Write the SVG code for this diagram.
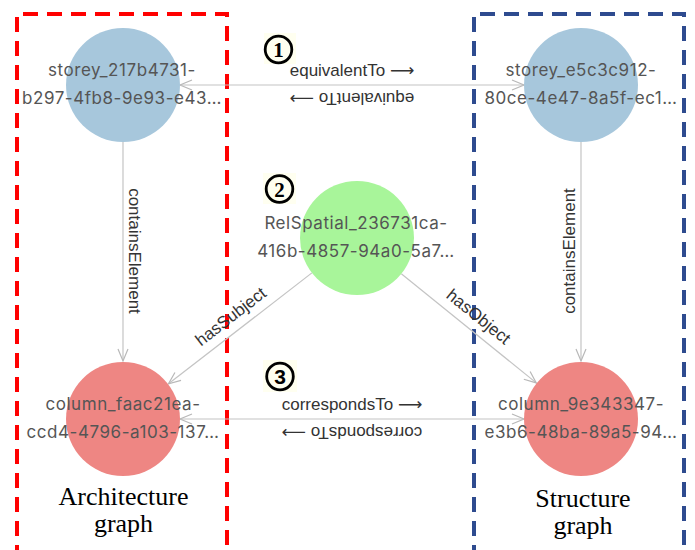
<svg xmlns="http://www.w3.org/2000/svg" width="695" height="550" viewBox="0 0 695 550">
<defs>
<marker id="arr" viewBox="-14 -7 16 14" refX="0" refY="0" markerWidth="16" markerHeight="14" markerUnits="userSpaceOnUse" orient="auto-start-reverse">
<path d="M-12,-5 L0,0 L-12,5" fill="none" stroke="#b8b8b8" stroke-width="1.2"/>
</marker>
<style>
.edge{stroke:#c4c4c4;stroke-width:1.2;fill:none}
.elabel{font-family:"Liberation Sans","DejaVu Sans",sans-serif;font-size:17px;fill:#333;text-anchor:middle}
.ntext{font-family:Inter,"Noto Sans",sans-serif;font-size:17px;letter-spacing:0.55px;fill:#555;text-anchor:middle}
.storey{fill:#a7c7dc}
.column{fill:#ee8683}
.rel{fill:#a8f59a}
.glabel{font-family:"Liberation Serif",serif;font-size:26px;fill:#000;text-anchor:middle}
.numbg{fill:#fffff0}
.numc{fill:none;stroke:#000;stroke-width:2.8}
.numt{font-size:21px;font-weight:bold;fill:#000;text-anchor:middle}
</style>
</defs>
<rect width="695" height="550" fill="#fff"/>

<g id="frames">
<path d="M17,560 L17,14 L227,14 L227,560" fill="none" stroke="#ff0000" stroke-width="4" stroke-dasharray="15 9"/>
<path d="M474,560 L474,14 L684,14 L684,560" fill="none" stroke="#2e4b8f" stroke-width="4" stroke-dasharray="15 9"/>
</g>

<g id="connectors">
<line class="edge" x1="180" y1="85" x2="524" y2="85" marker-start="url(#arr)" marker-end="url(#arr)"/>
<line class="edge" x1="180" y1="419" x2="524" y2="419" marker-start="url(#arr)" marker-end="url(#arr)"/>
<line class="edge" x1="123" y1="142" x2="123" y2="361" marker-end="url(#arr)"/>
<line class="edge" x1="581" y1="142" x2="581" y2="361" marker-end="url(#arr)"/>
<line class="edge" x1="311.9" y1="272.9" x2="168.5" y2="383.8" marker-end="url(#arr)"/>
<line class="edge" x1="401.3" y1="273.8" x2="536.3" y2="382.9" marker-end="url(#arr)"/>
<text class="elabel" x="352" y="75.5">equivalentTo ⟶</text>
<text class="elabel" x="352" y="75.5" transform="rotate(180 352 84)">equivalentTo ⟶</text>
<text class="elabel" x="352" y="409.5">correspondsTo ⟶</text>
<text class="elabel" x="352" y="409.5" transform="rotate(180 352 418)">correspondsTo ⟶</text>
<text class="elabel" transform="translate(129,251) rotate(90)">containsElement</text>
<text class="elabel" transform="translate(575,251) rotate(-90)">containsElement</text>
<text class="elabel" y="-9.5" transform="translate(240,328.5) rotate(-37.7)">hasSubject</text>
<text class="elabel" y="-9.5" transform="translate(469,328.5) rotate(38.9)">hasObject</text>
</g>

<g id="storey_arch">
<circle class="storey" cx="123" cy="85" r="57"/>
<text class="ntext" x="122" y="76">storey_217b4731-</text>
<text class="ntext" x="122" y="104">b297-4fb8-9e93-e43…</text>
</g>
<g id="storey_struct">
<circle class="storey" cx="581" cy="85" r="57"/>
<text class="ntext" x="581" y="76">storey_e5c3c912-</text>
<text class="ntext" x="581" y="104">80ce-4e47-8a5f-ec1…</text>
</g>
<g id="relspatial">
<circle class="rel" cx="357" cy="238" r="57"/>
<text class="ntext" x="356" y="229">RelSpatial_236731ca-</text>
<text class="ntext" x="356" y="257">416b-4857-94a0-5a7…</text>
</g>
<g id="column_arch">
<circle class="column" cx="123" cy="419" r="57"/>
<text class="ntext" x="123" y="410">column_faac21ea-</text>
<text class="ntext" x="123" y="438">ccd4-4796-a103-137…</text>
</g>
<g id="column_struct">
<circle class="column" cx="581" cy="419" r="57"/>
<text class="ntext" x="581" y="410">column_9e343347-</text>
<text class="ntext" x="581" y="438">e3b6-48ba-89a5-94…</text>
</g>

<g id="marker1">
<rect class="numbg" x="264" y="33" width="32" height="31"/>
<circle class="numc" cx="278.5" cy="49.5" r="13.3"/>
<text class="numt" x="278.5" y="57" font-family="Liberation Serif,serif">1</text>
</g>
<g id="marker2">
<rect class="numbg" x="263" y="173" width="33" height="31"/>
<circle class="numc" cx="279.5" cy="189" r="13.3"/>
<text class="numt" x="279.5" y="196.5" font-family="Liberation Serif,serif">2</text>
</g>
<g id="marker3">
<rect class="numbg" x="263" y="360" width="34" height="32"/>
<circle class="numc" cx="280" cy="376.5" r="13.3"/>
<text class="numt" x="280" y="384" font-family="Liberation Sans,sans-serif">3</text>
</g>

<g id="arch_label">
<text class="glabel" x="123.5" y="505">Architecture</text>
<text class="glabel" x="123.5" y="532">graph</text>
</g>
<g id="struct_label">
<text class="glabel" x="583" y="507">Structure</text>
<text class="glabel" x="583" y="534">graph</text>
</g>
</svg>
